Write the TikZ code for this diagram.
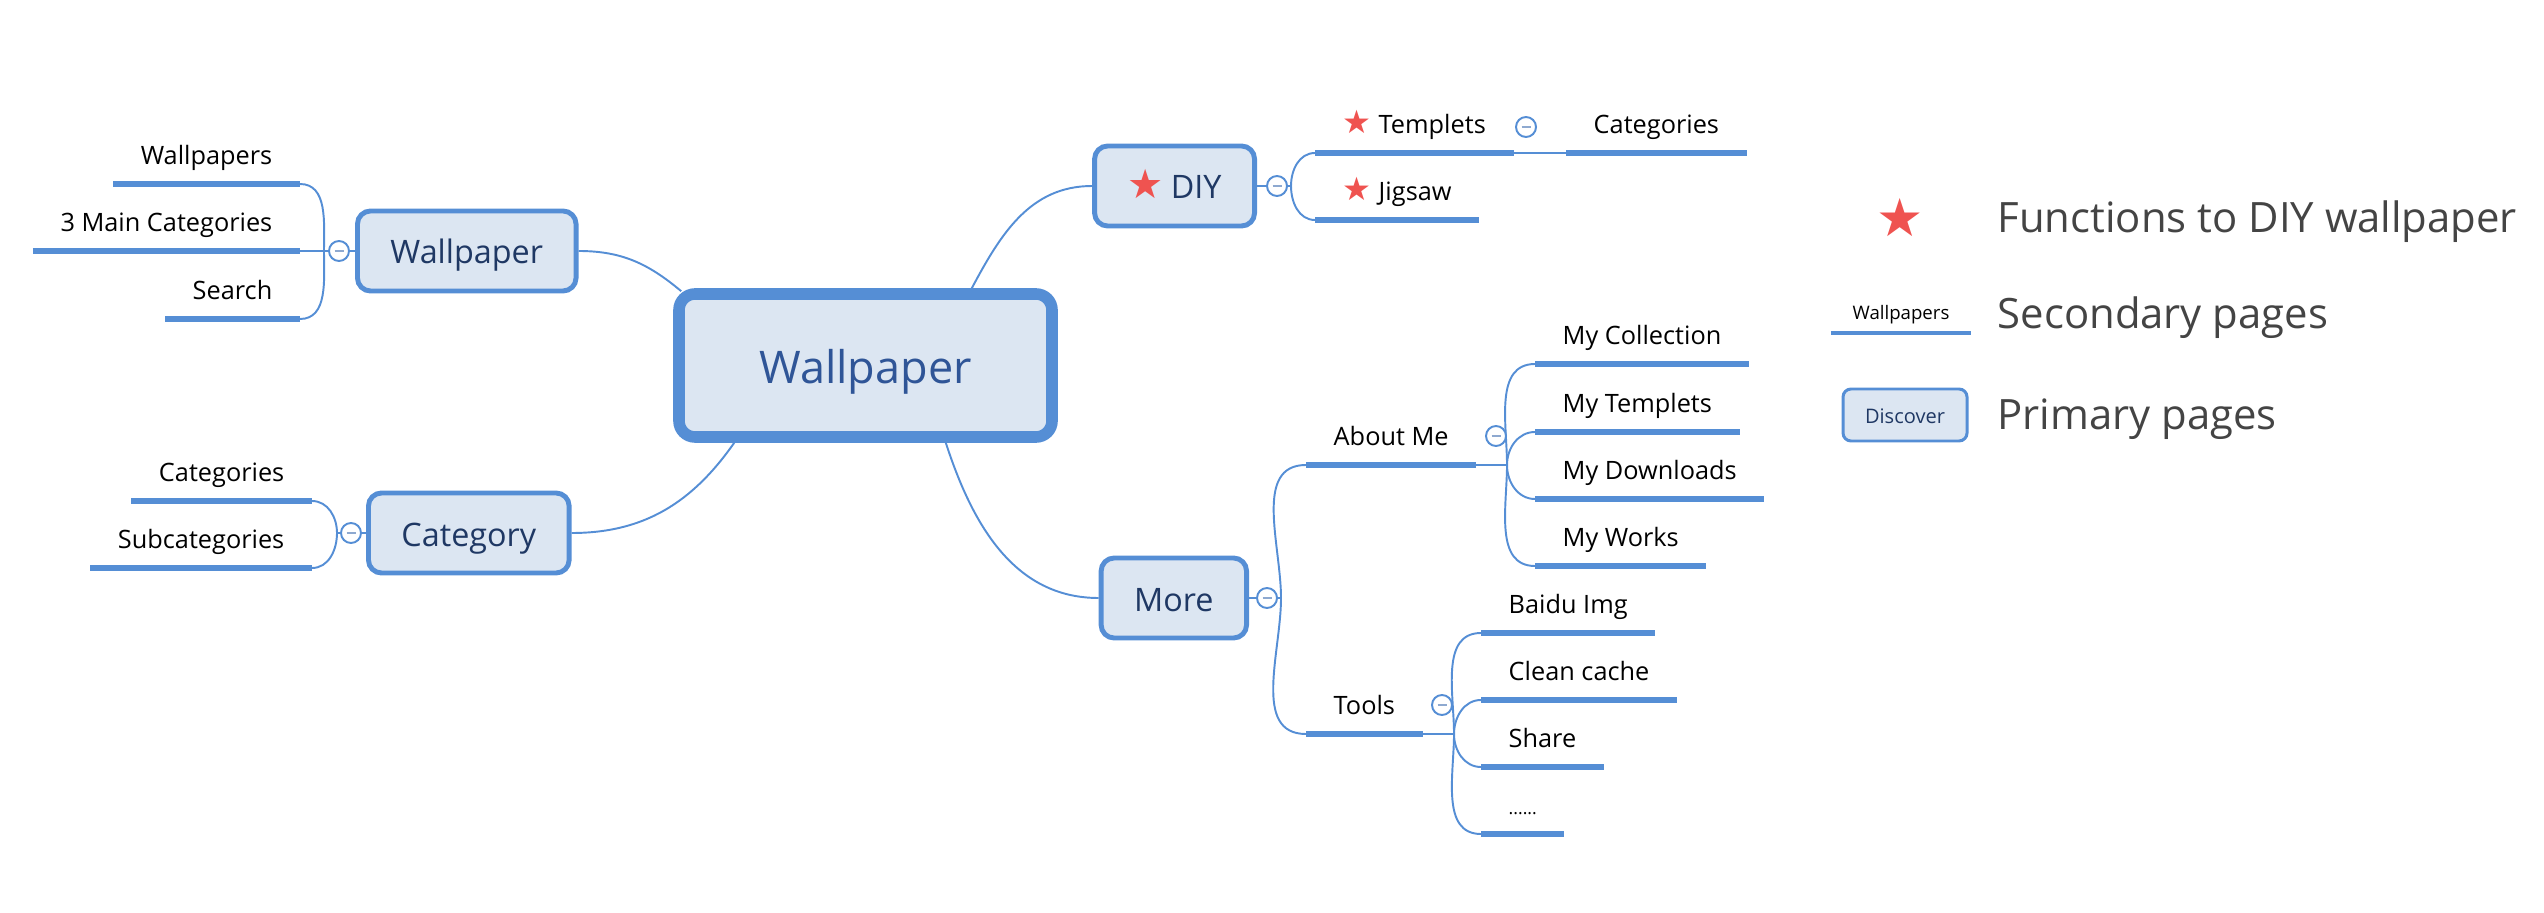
\documentclass[tikz,border=0pt]{standalone}
\usepackage{fontspec}
\setmainfont{Open Sans}
\newfontfamily\starfont{DejaVu Sans}

\definecolor{linkblue}{HTML}{558ED5}
\definecolor{boxfill}{HTML}{DCE6F2}
\definecolor{navytext}{HTML}{1F3864}
\definecolor{roottext}{HTML}{2F5597}
\definecolor{starred}{HTML}{EF5350}
\definecolor{foldgray}{HTML}{8EA9D0}
\definecolor{legendgray}{HTML}{444444}

\newcommand{\diystar}[1]{{\starfont\fontsize{#1}{#1}\selectfont\textcolor{starred}{★}}}

\begin{document}
\begin{tikzpicture}[
        link/.style={draw=linkblue, line width=0.55pt},
        bar/.style={draw=linkblue, line width=1.6pt},
        rootbox/.style={draw=linkblue, fill=boxfill, line width=3.3pt, rounded corners=0.16cm,
            minimum width=3.73cm, minimum height=1.43cm, text=roottext,
            text height=10.4pt, text depth=0pt, font=\fontsize{12.8}{15}\selectfont},
        pagebox/.style={draw=linkblue, fill=boxfill, line width=1.4pt, rounded corners=0.13cm,
            minimum height=0.8cm, inner xsep=0.33cm, text=navytext,
            text height=7.4pt, text depth=0pt, font=\fontsize{9.2}{11}\selectfont},
        leaf/.style={inner xsep=0.27cm, inner ysep=0.19cm, text depth=0pt,
            font=\fontsize{7.2}{8.6}\selectfont},
        foldsign/.style={circle, draw=linkblue, line width=0.55pt, fill=white, inner sep=0pt,
            minimum size=0.2cm,
            path picture={\draw[foldgray, line width=0.6pt]
                ([xshift=-0.045cm]path picture bounding box.center) --
                ([xshift=0.045cm]path picture bounding box.center);}},
        legendtext/.style={inner sep=0pt, text=legendgray, font=\fontsize{11.9}{14}\selectfont}
    ]
    \useasboundingbox (0,0) rectangle (25.44,9.12);

    % central topic and primary pages
    \node[rootbox] (root) at (8.655,5.465) {Wallpaper};
    \node[pagebox, anchor=west] (wallp) at (3.55,6.61) {Wallpaper};
    \node[pagebox, anchor=west] (categ) at (3.66,3.79) {Category};
    \node[pagebox, anchor=east] (diy) at (12.57,7.26) {\diystar{11.5}\hspace{2pt}DIY};
    \node[pagebox, anchor=east] (more) at (12.49,3.14) {More};

    \draw[link] (wallp.east) to[out=0, in=140] ([shift={(0.08,-0.03)}]root.north west);
    \draw[link] (categ.east) to[out=0, in=-125] ([shift={(0.61,0)}]root.south west);
    \draw[link] ([shift={(-0.86,0)}]root.north east) to[out=62, in=180] (diy.west);
    \draw[link] ([shift={(-1.12,0)}]root.south east) to[out=-72, in=180] (more.west);

    % junction points
    \coordinate (jwall) at (3.24,6.61);
    \coordinate (jcat) at (3.37,3.79);
    \coordinate (jdiy) at (12.91,7.26);
    \coordinate (jmore) at (12.81,3.14);
    \coordinate (jabout) at (15.07,4.47);
    \coordinate (jtools) at (14.54,1.78);

    % secondary pages, left side
    \node[leaf, anchor=south east] (wps) at (3.00,7.28) {Wallpapers};
    \node[leaf, anchor=south east] (mcat) at (3.00,6.61) {3 Main Categories};
    \node[leaf, anchor=south east] (srch) at (3.00,5.93) {Search};
    \node[leaf, anchor=south east] (cats) at (3.12,4.11) {Categories};
    \node[leaf, anchor=south east] (subcats) at (3.12,3.44) {Subcategories};

    % secondary pages, right side
    \node[leaf, anchor=south west] (tmpl) at (13.15,7.59) {\diystar{9.2}\hspace{2pt}Templets};
    \node[leaf, anchor=south west] (jig) at (13.15,6.92) {\diystar{9.2}\hspace{2pt}Jigsaw};
    \node[leaf, anchor=south west] (tcat) at (15.66,7.59) {Categories};
    \node[leaf, anchor=south west] (about) at (13.06,4.47) {About Me};
    \node[leaf, anchor=south west] (tools) at (13.06,1.78) {Tools};
    \node[leaf, anchor=south west] (mycoll) at (15.35,5.48) {My Collection};
    \node[leaf, anchor=south west] (mytmpl) at (15.35,4.80) {My Templets};
    \node[leaf, anchor=south west] (mydown) at (15.35,4.13) {My Downloads};
    \node[leaf, anchor=south west] (myworks) at (15.35,3.46) {My Works};
    \node[leaf, anchor=south west] (baidu) at (14.81,2.79) {Baidu Img};
    \node[leaf, anchor=south west] (clean) at (14.81,2.12) {Clean cache};
    \node[leaf, anchor=south west] (share) at (14.81,1.45) {Share};
    \node[leaf, anchor=south west] (dots) at (14.81,0.78) {\fontsize{5}{6}\selectfont ......};

    \foreach \n in {wps, mcat, srch, cats, subcats, tmpl, jig, tcat, about, tools,
            mycoll, mytmpl, mydown, myworks, baidu, clean, share, dots}
        \draw[bar] (\n.south west) -- (\n.south east);

    % branches
    \draw[link] (jwall) -- (wallp.west);
    \draw[link] (jwall) to[out=90, in=0] (wps.south east);
    \draw[link] (jwall) -- (mcat.south east);
    \draw[link] (jwall) to[out=-90, in=0] (srch.south east);
    \draw[link] (jcat) -- (categ.west);
    \draw[link] (jcat) to[out=90, in=0] (cats.south east);
    \draw[link] (jcat) to[out=-90, in=0] (subcats.south east);
    \draw[link] (diy.east) -- (jdiy);
    \draw[link] (jdiy) to[out=90, in=180] (tmpl.south west);
    \draw[link] (jdiy) to[out=-90, in=180] (jig.south west);
    \draw[link] (tmpl.south east) -- (tcat.south west);
    \draw[link] (more.east) -- (jmore);
    \draw[link] (jmore) to[out=90, in=180] (about.south west);
    \draw[link] (jmore) to[out=-90, in=180] (tools.south west);
    \draw[link] (about.south east) -- (jabout);
    \draw[link] (tools.south east) -- (jtools);
    \foreach \n/\a in {mycoll/90, mytmpl/90, mydown/-90, myworks/-90}
        \draw[link] (jabout) to[out=\a, in=180] (\n.south west);
    \foreach \n/\a in {baidu/90, clean/90, share/-90, dots/-90}
        \draw[link] (jtools) to[out=\a, in=180] (\n.south west);

    % fold signs
    \node[foldsign] (fwall) at (3.39,6.61) {};
    \node[foldsign] (fcat) at (3.51,3.79) {};
    \node[foldsign] (fdiy) at (12.77,7.26) {};
    \node[foldsign] (fmore) at (12.67,3.14) {};
    \node[foldsign] (ftmpl) at (15.26,7.85) {};
    \node[foldsign] (fabout) at (14.96,4.76) {};
    \node[foldsign] (ftools) at (14.42,2.07) {};

    % legend
    \node (lgstar) at (19.00,6.94) {\diystar{15}};
    \node[legendtext, anchor=base west] (lgfun) at (19.97,6.79) {Functions to DIY wallpaper};
    \node[leaf, inner xsep=0.21cm, inner ysep=0.13cm, anchor=south,
        font=\fontsize{5.3}{6}\selectfont] (lgwall) at (19.01,5.79) {Wallpapers};
    \draw[bar, line width=1.2pt] (lgwall.south west) -- (lgwall.south east);
    \node[legendtext, anchor=base west] (lgsec) at (19.97,5.83) {Secondary pages};
    \node[pagebox, minimum width=1.24cm, minimum height=0.52cm, inner xsep=0pt,
        line width=0.85pt, rounded corners=0.08cm, text height=4.6pt,
        font=\fontsize{5.7}{7}\selectfont] (lgdisc) at (19.05,4.97) {Discover};
    \node[legendtext, anchor=base west] (lgpri) at (19.97,4.82) {Primary pages};
\end{tikzpicture}
\end{document}
